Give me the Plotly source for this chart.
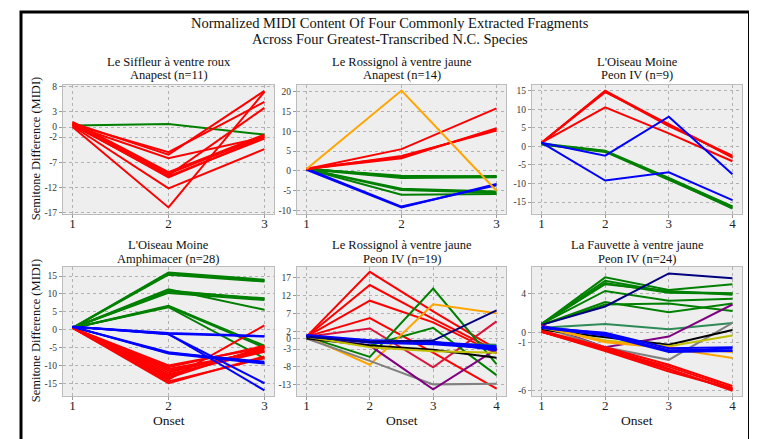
import plotly.graph_objects as go

# ---------------- data ----------------
title_text = ["Normalized MIDI Content Of Four Commonly Extracted Fragments",
              "Across Four Greatest-Transcribed N.C. Species"]

panel_titles = [
    ["Le Siffleur à ventre roux", "Anapest (n=11)"],
    ["Le Rossignol à ventre jaune", "Anapest (n=14)"],
    ["L'Oiseau Moine", "Peon IV (n=9)"],
    ["L'Oiseau Moine", "Amphimacer (n=28)"],
    ["Le Rossignol à ventre jaune", "Peon IV (n=19)"],
    ["La Fauvette à ventre jaune", "Peon IV (n=24)"],
]

y_title = "Semitone Difference (MIDI)"
x_title = "Onset"

onsets_3 = [1, 2, 3]
onsets_4 = [1, 2, 3, 4]

# Panel 1: Le Siffleur à ventre roux, Anapest
p1_colors = ["green"] + ["red"] * 10
p1_values = [
    [0.3, 0.6, -1.5],
    [0.5, -5.0, 5.0],
    [0.8, -5.5, 7.2],
    [0.3, -6.2, -2.0],
    [1.0, -9.0, -1.5],
    [0.8, -9.3, -1.8],
    [0.5, -9.6, 3.8],
    [0.6, -10.0, -2.0],
    [0.4, -9.8, -2.3],
    [0.2, -12.2, -4.4],
    [0.0, -16.0, 7.0],
]

# Panel 2: Le Rossignol à ventre jaune, Anapest
p2_colors = ["green"] * 7 + ["blue"] * 2 + ["red"] * 4 + ["orange"]
p2_values = [
    [0.5, -1.2, -1.5],
    [0.6, -1.5, -1.3],
    [0.4, -1.8, -1.6],
    [0.5, -1.4, -1.4],
    [0.5, -4.5, -5.2],
    [0.5, -6.0, -5.8],
    [0.5, -4.8, -5.5],
    [0.3, -9.2, -3.3],
    [0.6, -9.0, -3.6],
    [0.5, 5.5, 15.8],
    [0.6, 3.5, 10.5],
    [0.4, 3.8, 10.2],
    [0.5, 3.2, 10.8],
    [0.5, 20.3, -5.0],
]

# Panel 3: L'Oiseau Moine, Peon IV
p3_colors = ["green"] * 3 + ["red"] * 4 + ["blue"] * 2
p3_values = [
    [0.5, -1.5, -9.0, -16.5],
    [0.8, -1.2, -8.5, -16.2],
    [0.6, -1.3, -8.8, -16.8],
    [1.0, 14.8, 5.5, -2.5],
    [1.0, 14.6, 6.0, -3.0],
    [1.0, 15.0, 5.8, -2.8],
    [1.0, 10.5, 3.5, -4.0],
    [1.0, -2.5, 8.0, -7.5],
    [1.0, -9.2, -7.0, -14.5],
]

# Panel 4: L'Oiseau Moine, Amphimacer
p4_colors = ["green"] * 10 + ["red"] * 11 + ["blue"] * 7
p4_values = [
    [0.5, 16.0, 14.0],
    [0.5, 15.8, 13.7],
    [0.5, 15.4, 13.5],
    [0.5, 11.0, 8.5],
    [0.5, 10.7, 8.8],
    [0.5, 10.3, 8.3],
    [0.5, 11.3, 5.6],
    [0.5, 6.5, -5.0],
    [0.5, 6.3, -8.0],
    [0.5, 6.7, -4.5],
    [0.5, -10.0, -5.0],
    [0.5, -10.5, -4.5],
    [0.5, -11.0, -6.0],
    [0.5, -12.0, -5.5],
    [0.5, -12.5, -6.2],
    [0.5, -13.0, -5.0],
    [0.5, -14.0, 1.2],
    [0.5, -14.5, -8.0],
    [0.5, -15.0, -7.5],
    [0.5, -13.5, -4.8],
    [0.5, -11.5, -5.8],
    [0.8, -0.9, -1.8],
    [0.8, -1.1, -1.9],
    [0.8, -1.3, -15.0],
    [0.8, -1.2, -17.0],
    [0.8, -6.5, -9.0],
    [0.8, -6.7, -9.5],
    [0.8, -6.3, -9.3],
]

# Panel 5: Le Rossignol à ventre jaune, Peon IV
p5_colors = ["red"] * 4 + ["crimson", "green", "green", "orange", "gray", "purple",
                           "seagreen", "black", "#bfbf00"] + ["blue"] * 5 + ["navy"]
p5_values = [
    [0.5, 18.7, 7.6, -3.0],
    [0.5, 15.0, 5.5, -3.5],
    [0.5, 10.6, 4.5, -4.2],
    [0.5, 5.7, -4.0, -14.1],
    [0.5, 2.8, -8.1, 4.8],
    [0.5, -5.2, 14.0, -7.2],
    [0.5, -2.0, 3.0, -10.3],
    [0.5, -7.4, 9.6, 7.1],
    [0.0, -6.3, -12.9, -12.7],
    [0.5, -2.0, -14.3, -3.0],
    [0.5, -1.0, -1.5, -1.8],
    [0.0, -2.0, -3.2, -5.4],
    [0.5, -2.5, -3.6, -4.0],
    [0.5, -0.6, -1.0, -2.2],
    [0.8, -0.8, -1.2, -3.0],
    [0.6, -1.0, -1.4, -2.6],
    [1.0, -0.5, -0.9, -3.4],
    [0.7, -1.2, -1.6, -2.9],
    [0.5, -1.0, -0.6, 7.9],
]

# Panel 6: La Fauvette à ventre jaune, Peon IV
p6_colors = ["green"] * 7 + ["navy", "seagreen", "purple", "gray", "black", "#bfbf00",
                             "orange", "orange"] + ["blue"] * 4 + ["red"] * 5
p6_values = [
    [0.9, 5.7, 4.4, 5.0],
    [0.9, 5.35, 4.2, 4.07],
    [0.85, 5.1, 4.1, 4.0],
    [0.9, 4.3, 3.3, 3.5],
    [0.8, 3.15, 2.1, 3.0],
    [0.8, 2.9, 3.0, 2.24],
    [0.9, 5.0, 4.3, 3.9],
    [0.8, 2.7, 6.1, 5.6],
    [0.5, 0.9, 0.35, 1.0],
    [0.8, -1.5, -0.4, 2.9],
    [0.6, -1.5, -2.8, 1.0],
    [0.3, -0.5, -1.25, 0.27],
    [0.5, -0.8, -1.4, -0.3],
    [0.6, -0.9, -1.5, -2.0],
    [0.6, -1.0, -1.6, -2.6],
    [0.5, -0.2, -1.8, -1.8],
    [0.5, 0.0, -1.6, -1.5],
    [0.5, -0.3, -2.0, -1.9],
    [0.6, -0.1, -1.9, -1.6],
    [0.1, -1.7, -3.5, -5.7],
    [0.1, -1.8, -3.8, -5.9],
    [0.1, -1.6, -3.7, -6.0],
    [0.2, -1.5, -3.3, -5.5],
    [0.1, -1.9, -4.0, -5.8],
]

p1_yticks = [8, 3, 0, -2, -7, -12, -17]
p2_yticks = [20, 15, 10, 5, 0, -5, -10]
p3_yticks = [15, 10, 5, 0, -5, -10, -15]
p4_yticks = [15, 10, 5, 0, -5, -10, -15]
p5_yticks = [17, 12, 7, 2, 0, -3, -8, -13]
p6_yticks = [4, 0, -1, -6]

# ---------------- layout helpers ----------------
W, H = 757, 439
OFF = 8  # page offset of the figure (body margin) in the screenshot
FONT = "Liberation Serif, Times New Roman, serif"


def fx(px):  # screenshot x pixel -> paper fraction
    return (px - OFF) / W


def fy(py):  # screenshot y pixel -> paper fraction
    return 1 - (py - OFF) / H


col_px = [(63, 274), (297, 506), (532, 742)]
row_px = [(83, 214), (268, 399)]
sub_title_y = [(60, 73.5), (246, 260)]

panels = [
    (p1_values, p1_colors, onsets_3, p1_yticks, [-17.25, 8.4]),
    (p2_values, p2_colors, onsets_3, p2_yticks, [-10.8, 21.75]),
    (p3_values, p3_colors, onsets_4, p3_yticks, [-18.15, 16.6]),
    (p4_values, p4_colors, onsets_3, p4_yticks, [-18.5, 17.6]),
    (p5_values, p5_colors, onsets_4, p5_yticks, [-16.1, 20.1]),
    (p6_values, p6_colors, onsets_4, p6_yticks, [-6.5, 6.78]),
]

fig = go.Figure()
annotations = []


def label(text, x, y, size, angle=0):
    annotations.append(dict(text=text, x=x, y=y, xref="paper", yref="paper",
                            xanchor="center", yanchor="middle", showarrow=False,
                            textangle=angle,
                            font=dict(family=FONT, size=size, color="#111")))


for i, (vals, cols, xs, yt, yr) in enumerate(panels):
    r, c = divmod(i, 3)
    n = i + 1
    xa = "x" if n == 1 else f"x{n}"
    ya = "y" if n == 1 else f"y{n}"
    for v, col in zip(vals, cols):
        fig.add_trace(go.Scatter(x=xs, y=v, mode="lines",
                                 line=dict(color=col, width=2),
                                 xaxis=xa, yaxis=ya, showlegend=False,
                                 hoverinfo="skip"))
    x0, x1 = col_px[c]
    y0, y1 = row_px[r]
    pad = 0.05 * (len(xs) - 1)
    axcommon = dict(showline=True, mirror=True, linecolor="#bcbcbc", linewidth=1,
                    showgrid=True, gridcolor="#b2b2b2", griddash="dot", gridwidth=0.7,
                    zeroline=False, ticks="outside", ticklen=3, tickcolor="#999999",
                    tickwidth=1)
    fig.layout[f"xaxis{'' if n == 1 else n}"] = dict(
        domain=[fx(x0), fx(x1)], anchor=ya, range=[1 - pad, len(xs) + pad],
        tickvals=xs, ticktext=[str(x) for x in xs], ticklabelstandoff=-5,
        tickfont=dict(family=FONT, size=13, color="#222"), **axcommon)
    fig.layout[f"yaxis{'' if n == 1 else n}"] = dict(
        domain=[fy(y1), fy(y0)], anchor=xa, range=yr,
        tickvals=yt, ticktext=[str(t) for t in yt],
        tickfont=dict(family=FONT, size=9.5, color="#333"), **axcommon)
    cx = fx((x0 + x1) / 2)
    label(panel_titles[i][0], cx, fy(sub_title_y[r][0]), 12.5)
    label(panel_titles[i][1], cx, fy(sub_title_y[r][1]), 12.5)
    if c == 0:
        label(y_title, fx(36), fy((y0 + y1) / 2), 12.5, angle=-90)
    if r == 1:
        label(x_title, cx, fy(424.5), 13.5)

label(title_text[0], fx(390), fy(20), 14.5)
label(title_text[1], fx(390), fy(36), 14.5)

fig.update_layout(
    width=W, height=H, margin=dict(l=0, r=0, t=0, b=0),
    paper_bgcolor="white", plot_bgcolor="#eeeeee",
    annotations=annotations, showlegend=False,
    shapes=[dict(type="rect", xref="paper", yref="paper",
                 x0=fx(21), x1=fx(749.5), y0=-0.2, y1=fy(9),
                 line=dict(color="black", width=3), fillcolor="rgba(0,0,0,0)",
                 layer="below")],
)

fig.write_html("out.html")
